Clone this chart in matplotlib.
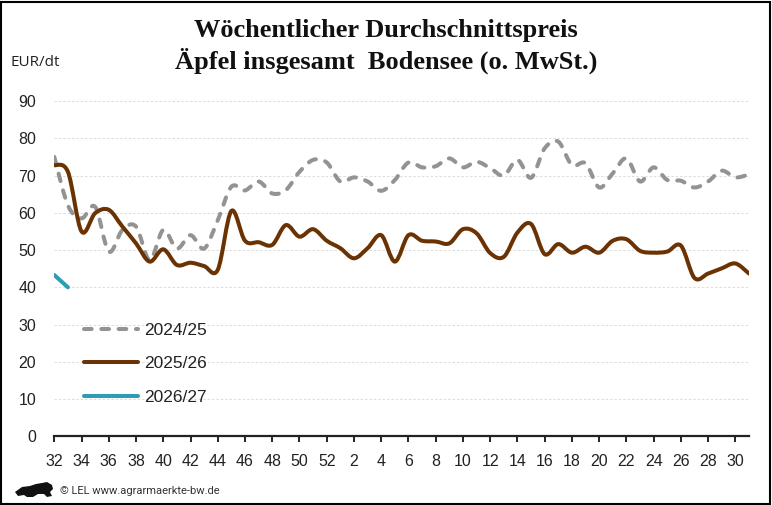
import numpy as np
import matplotlib
matplotlib.use("Agg")
import matplotlib.pyplot as plt
from matplotlib.path import Path
from matplotlib.patches import PathPatch, Rectangle, Polygon
from matplotlib.lines import Line2D

# ---------------- data ----------------
weeks = list(range(32, 53)) + list(range(1, 32))
tick_labels = [str(w) for w in weeks]

series_labels = ["2024/25", "2025/26", "2026/27"]

price_2024_25 = [75.0, 62.0, 58.5, 61.6, 49.6, 55.4, 56.3, 47.3, 55.4, 50.4, 54.0, 50.4,
                 58.0, 67.0, 66.0, 68.4, 65.2, 66.1, 71.0, 74.2, 73.5, 68.4, 69.5, 68.4,
                 65.9, 68.8, 73.5, 72.2, 72.5, 74.6, 72.2, 73.7, 72.0, 70.0, 74.2, 69.4,
                 77.3, 79.1, 72.8, 73.3, 66.8, 70.6, 74.6, 68.4, 72.2, 68.8, 68.6, 66.8,
                 68.4, 71.3, 69.5, 70.3]
price_2025_26 = [72.8, 71.0, 55.0, 59.9, 60.8, 56.3, 51.8, 46.9, 50.2, 46.0, 46.6, 45.7,
                 44.7, 60.5, 52.5, 52.1, 51.4, 56.7, 53.6, 55.6, 52.5, 50.5, 47.8, 50.5,
                 54.0, 46.9, 54.0, 52.5, 52.3, 51.8, 55.6, 54.5, 49.2, 48.2, 54.7, 57.0,
                 48.9, 51.6, 49.3, 50.9, 49.3, 52.5, 52.9, 49.8, 49.3, 49.6, 51.2, 42.5,
                 43.7, 45.1, 46.4, 43.7]
price_2026_27 = [43.3, 40.0]

y_ticks = [0, 10, 20, 30, 40, 50, 60, 70, 80, 90]

c_gray = "#939393"
c_brown = "#6b3303"
c_teal = "#2e9cb2"
dash = (0, (1.9, 2.4))


def smooth_path(xs, ys):
    """Catmull-Rom style smoothing expressed as cubic Bezier path (like Excel smoothed lines)."""
    pts = np.column_stack([xs, ys]).astype(float)
    n = len(pts)
    verts = [pts[0]]
    codes = [Path.MOVETO]
    if n == 2:
        verts.append(pts[1])
        codes.append(Path.LINETO)
        return Path(verts, codes)
    for i in range(n - 1):
        p0 = pts[i - 1] if i > 0 else pts[i]
        p1 = pts[i]
        p2 = pts[i + 1]
        p3 = pts[i + 2] if i + 2 < n else pts[i + 1]
        c1 = p1 + (p2 - p0) / 6.0
        c2 = p2 - (p3 - p1) / 6.0
        verts += [c1, c2, p2]
        codes += [Path.CURVE4] * 3
    return Path(verts, codes)


fig = plt.figure(figsize=(7.72, 5.05), dpi=100)
W, H = 772, 505
ax = fig.add_axes([54.3 / W, 1 - 436.4 / H, (749.0 - 54.3) / W, (436.4 - 101.0) / H])

x_all = np.arange(len(weeks))

p = PathPatch(smooth_path(x_all, price_2024_25), facecolor="none", edgecolor=c_gray,
              lw=2.9, linestyle=dash, capstyle="round", joinstyle="round", zorder=3)
ax.add_patch(p)
p = PathPatch(smooth_path(x_all, price_2025_26), facecolor="none", edgecolor=c_brown,
              lw=2.9, capstyle="round", joinstyle="round", zorder=4)
ax.add_patch(p)
p = PathPatch(smooth_path(x_all[:len(price_2026_27)], price_2026_27), facecolor="none",
              edgecolor=c_teal, lw=2.9, capstyle="round", zorder=5)
ax.add_patch(p)

ax.set_xlim(0, len(weeks) - 1)
ax.set_ylim(0, 90)

ax.set_yticks(y_ticks)
ax.set_yticklabels([str(v) for v in y_ticks])
ax.set_xticks(x_all[::2])
ax.set_xticklabels(tick_labels[::2])

for s in ["left", "right", "top"]:
    ax.spines[s].set_visible(False)
ax.spines["bottom"].set_color("#222222")
ax.spines["bottom"].set_linewidth(1.6)

ax.tick_params(axis="y", length=0, pad=13, labelsize=11.5, labelcolor="#222222")
ax.tick_params(axis="x", length=4, width=1.4, color="#222222", pad=9, labelsize=11.5,
               labelcolor="#222222", direction="out")
for lab in ax.get_xticklabels() + ax.get_yticklabels():
    lab.set_fontfamily("Liberation Sans")

for v in y_ticks[1:]:
    ax.axhline(v, color="#dcdcdc", lw=0.7, linestyle=(0, (2.5, 2)), zorder=1)

handles = [
    Line2D([], [], color=c_gray, lw=2.9, linestyle=dash, dash_capstyle="round"),
    Line2D([], [], color=c_brown, lw=2.9, solid_capstyle="round"),
    Line2D([], [], color=c_teal, lw=2.9, solid_capstyle="round"),
]
leg = ax.legend(handles, series_labels, loc="upper left",
                bbox_to_anchor=(84 / W, 1 - 322.5 / H), bbox_transform=fig.transFigure,
                frameon=False, handlelength=3.1, handletextpad=0.35,
                labelspacing=1.06, borderpad=0, borderaxespad=0,
                prop={"family": "Liberation Sans", "size": 12.5})
for t in leg.get_texts():
    t.set_color("#222222")

# titles
fig.text(386 / W, 1 - 36.7 / H, "Wöchentlicher Durchschnittspreis", ha="center",
         va="baseline", fontsize=19, fontweight="bold", family="Liberation Serif", color="#111111")
fig.text(386 / W, 1 - 69.0 / H, "Äpfel insgesamt  Bodensee (o. MwSt.)", ha="center",
         va="baseline", fontsize=19, fontweight="bold", family="Liberation Serif", color="#111111")
fig.text(10 / W, 1 - 62 / H, "EUR/dt", ha="left", va="center", fontsize=11,
         family="Open Sans", color="#222222")

# footer
fig.text(60 / W, 1 - 491 / H, "© LEL www.agrarmaerkte-bw.de", ha="left", va="center",
         fontsize=8, family="Roboto", color="#333333")
lion = np.array([[15, 492], [22, 487], [30, 486], [36, 484], [42, 483], [47, 482], [52, 485],
                 [53, 489], [50, 492], [52, 496], [47, 497], [44, 494], [38, 494], [33, 497],
                 [27, 497], [24, 495], [18, 496]], dtype=float)
lion[:, 0] /= W
lion[:, 1] = 1 - lion[:, 1] / H
fig.patches.append(Polygon(lion, closed=True, transform=fig.transFigure,
                           facecolor="#111111", edgecolor="none"))

# frame
fig.patches.append(Rectangle((0.001, 0.002), 0.996, 0.995, transform=fig.transFigure,
                             fill=False, edgecolor="black", lw=1.5))

fig.savefig("out.png", dpi=100)
